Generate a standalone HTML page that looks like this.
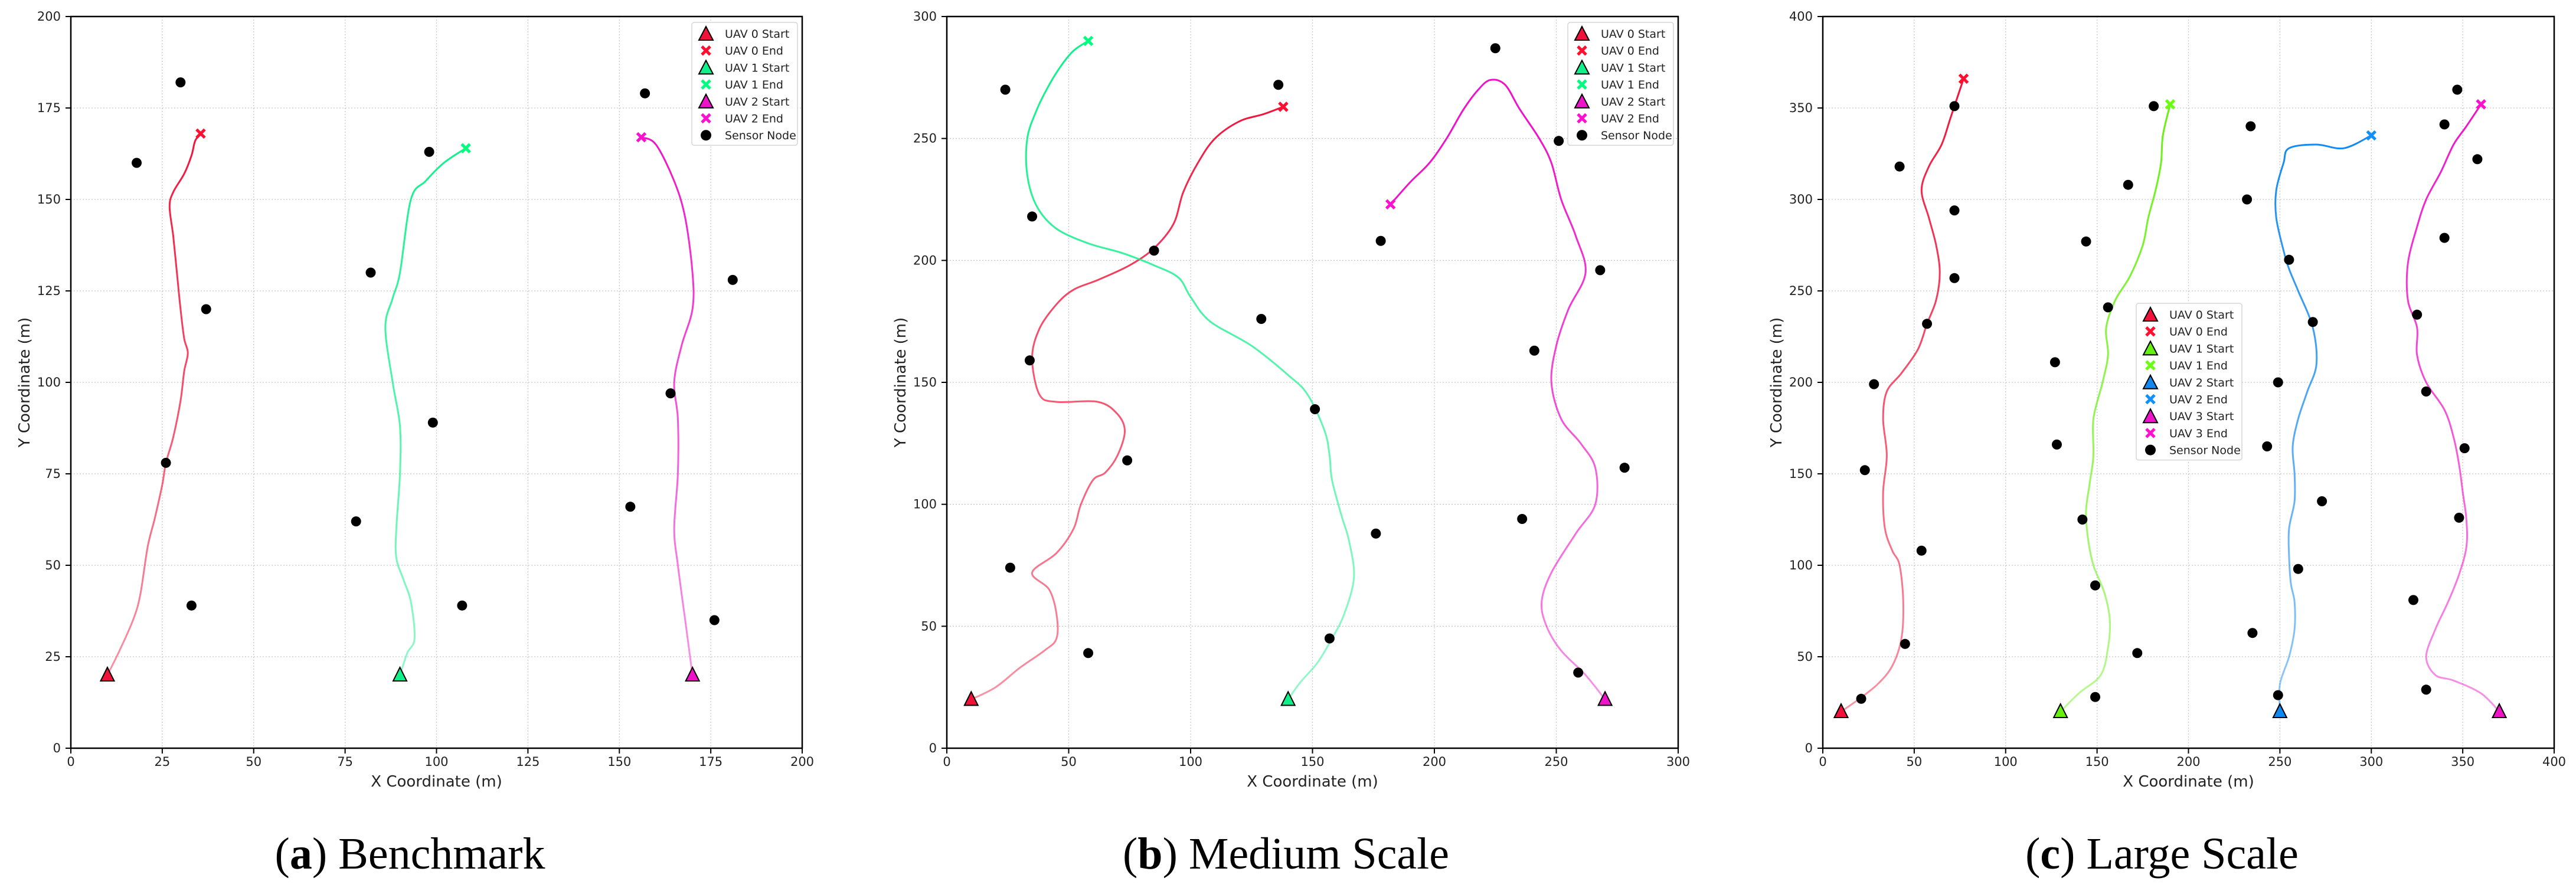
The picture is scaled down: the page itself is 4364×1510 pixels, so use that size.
<!DOCTYPE html>
<html><head><meta charset="utf-8">
<style>
html,body{margin:0;padding:0;background:#fff;}
svg{display:block;}
text{font-family:"DejaVu Sans","Liberation Sans",sans-serif;fill:#222;}
.cap{font-family:"Liberation Serif",serif;fill:#000;}
</style></head>
<body>
<svg id="fig" width="4364" height="1510" viewBox="0 0 4364 1510" xmlns="http://www.w3.org/2000/svg"></svg>
<script>
// ---------- Panel (a) Benchmark ----------
const aSensorX=[30,18,37,26,33,98,82,99,78,107,157,181,164,153,176];
const aSensorY=[182,160,120,78,39,163,130,89,62,39,179,128,97,66,35];
const aU0x=[10,13,17,19,21,23,25,26,28,30,31,32,31,30,29,28,27,28,31,33,34,35.5];
const aU0y=[20,26,35,42,55,63,72,78,85,95,103,108,112,120,130,140,148,152,157,162,166,168];
const aU1x=[90,92,94,93,91,89,89,90,90,88,86,88,90,93,97,102,108];
const aU1y=[20,26,30,40,46,52,60,75,88,100,115,123,130,150,155,160,164];
const aU2x=[170,168,166,165,166,166,165,167,170,170,168,165,160,156];
const aU2y=[20,35,50,60,75,90,100,110,120,130,145,155,165,167];
const aTicks=[0,25,50,75,100,125,150,175,200];

// ---------- Panel (b) Medium Scale ----------
const bSensorX=[24,136,35,85,178,225,251,268,241,129,34,151,74,176,278,236,26,157,58,259];
const bSensorY=[270,272,218,204,208,287,249,196,163,176,159,139,118,88,115,94,74,45,39,31];
const bU0x=[10,20,30,40,45,45,42,35,45,52,55,60,65,70,73,70,62,45,38,35,38,45,52,62,75,85,93,97,103,110,120,130,138];
const bU0y=[20,25,33,40,45,55,65,72,80,90,100,110,113,120,130,137,142,142,145,160,172,182,188,192,198,205,215,228,240,250,257,260,263];
const bU1x=[140,145,152,158,163,167,165,162,158,157,155,148,140,125,108,100,95,85,72,58,45,37,33,33,37,42,47,52,58];
const bU1y=[20,27,35,45,55,70,85,95,110,120,130,145,153,165,175,185,193,198,203,207,213,222,235,250,262,272,280,286,290];
const bU2x=[270,262,252,246,244,248,258,266,266,260,252,248,250,255,262,258,252,248,243,235,229,223,218,212,205,198,190,182];
const bU2y=[20,30,40,50,60,72,88,100,115,125,135,150,165,180,195,210,225,240,250,262,272,274,270,262,250,240,232,223];
const bTicks=[0,50,100,150,200,250,300];

// ---------- Panel (c) Large Scale ----------
const cSensorX=[72,42,72,72,57,28,23,54,45,21,181,167,144,156,127,128,142,149,172,149,234,232,255,268,249,243,273,260,235,249,347,340,358,340,325,330,351,348,323,330];
const cSensorY=[351,318,294,257,232,199,152,108,57,27,351,308,277,241,211,166,125,89,52,28,340,300,267,233,200,165,135,98,63,29,360,341,322,279,237,195,164,126,81,32];
const cU0x=[10,20,30,38,43,44,42,38,34,33,35,33,35,43,52,57,62,64,62,58,54,58,65,70,77];
const cU0y=[20,27,35,45,60,80,100,108,120,140,160,180,195,205,218,232,245,260,275,290,305,318,330,345,366];
const cU1x=[130,140,152,156,157,154,148,145,144,146,148,148,153,156,155,160,168,175,178,182,185,186,190];
const cU1y=[20,30,40,55,70,85,100,115,130,145,160,180,200,215,230,245,258,275,290,305,320,335,352];
const cU2x=[250,250,255,258,258,256,255,255,258,258,257,260,265,270,268,260,255,252,248,248,252,255,270,285,300];
const cU2y=[20,35,50,65,80,90,105,120,135,150,165,180,195,210,230,250,262,272,290,305,320,328,330,328,335];
const cU3x=[370,360,345,335,330,335,342,348,352,352,350,348,345,340,330,325,325,320,320,325,330,338,345,352,360];
const cU3y=[20,30,37,40,50,65,80,95,110,125,140,155,170,185,200,215,230,245,265,285,300,315,330,340,352];
const cTicks=[0,50,100,150,200,250,300,350,400];

const NS="http://www.w3.org/2000/svg";
const svg=document.getElementById('fig');
function mk(tag,attrs,parent){const e=document.createElementNS(NS,tag);for(const k in attrs)e.setAttribute(k,attrs[k]);(parent||svg).appendChild(e);return e;}

function smoothPath(pts){
  let d='M'+pts[0][0].toFixed(1)+','+pts[0][1].toFixed(1);
  for(let i=0;i<pts.length-1;i++){
    const p0=pts[Math.max(0,i-1)],p1=pts[i],p2=pts[i+1],p3=pts[Math.min(pts.length-1,i+2)];
    const c1x=p1[0]+(p2[0]-p0[0])/6,c1y=p1[1]+(p2[1]-p0[1])/6;
    const c2x=p2[0]-(p3[0]-p1[0])/6,c2y=p2[1]-(p3[1]-p1[1])/6;
    d+=`C${c1x.toFixed(1)},${c1y.toFixed(1)} ${c2x.toFixed(1)},${c2y.toFixed(1)} ${p2[0].toFixed(1)},${p2[1].toFixed(1)}`;
  }
  return d;
}

const TOP=28,BOT=1268,W=1239;
function panel(cfg){
  const g=mk('g',{});
  
  
  const L=cfg.left,R=L+W;
  const sx=v=>L+(v/cfg.max)*W;
  const sy=v=>BOT-(v/cfg.max)*(BOT-TOP);
  cfg.ticks.forEach(t=>{
    const gl=mk('line',{x1:sx(t),x2:sx(t),y1:TOP,y2:BOT,stroke:'#c8c8c8','stroke-width':1.3,'stroke-dasharray':'2,3'},g);
    
    
    const gh=mk('line',{x1:L,x2:R,y1:sy(t),y2:sy(t),stroke:'#c8c8c8','stroke-width':1.3,'stroke-dasharray':'2,3'},g);
    
    
    mk('line',{x1:sx(t),x2:sx(t),y1:BOT,y2:BOT+9,stroke:'#000','stroke-width':2},g);
    mk('line',{x1:L-9,x2:L,y1:sy(t),y2:sy(t),stroke:'#000','stroke-width':2},g);
    const xt=mk('text',{x:sx(t),y:BOT+30,'text-anchor':'middle','font-size':21},g);xt.textContent=t;
    
    
    const yt=mk('text',{x:L-17,y:sy(t)+7,'text-anchor':'end','font-size':21},g);yt.textContent=t;
    
    
  });
  cfg.uavs.forEach((u,i)=>{
    const pts=u.x.map((v,k)=>[sx(v),sy(u.y[k])]);
    const d=smoothPath(pts);
    const gid=cfg.name+'-grad'+i;
    const defs=mk('defs',{},g);
    const lg=mk('linearGradient',{id:gid,gradientUnits:'userSpaceOnUse',x1:sx(u.x[0]),y1:sy(u.y[0]),x2:sx(u.x[u.x.length-1]),y2:sy(u.y[u.y.length-1])},defs);
    mk('stop',{offset:'0','stop-color':u.c,'stop-opacity':0.45},lg);
    mk('stop',{offset:'1','stop-color':u.c,'stop-opacity':1},lg);
    const p=mk('path',{d:d,fill:'none',stroke:'url(#'+gid+')','stroke-width':3,'stroke-linejoin':'round','stroke-linecap':'round'},g);
    
    
  });
  cfg.sx.forEach((v,k)=>{
    const c=mk('circle',{cx:sx(v),cy:sy(cfg.sy[k]),r:8.5,fill:'#000'},g);
    
    
  });
  cfg.uavs.forEach((u,i)=>{
    const x0=sx(u.x[0]),y0=sy(u.y[0]);
    const tr=mk('polygon',{points:`${x0},${y0-13} ${x0-11.5},${y0+10} ${x0+11.5},${y0+10}`,fill:u.c,stroke:'#000','stroke-width':2},g);
    
    
    const xe=sx(u.x[u.x.length-1]),ye=sy(u.y[u.y.length-1]);
    const cr=mk('path',{d:`M${xe-7},${ye-7}L${xe+7},${ye+7}M${xe-7},${ye+7}L${xe+7},${ye-7}`,stroke:u.e||u.c,'stroke-width':5},g);
    
    
  });
  const fr=mk('rect',{x:L,y:TOP,width:W,height:BOT-TOP,fill:'none',stroke:'#000','stroke-width':2.5},g);
  
  
  const xl=mk('text',{x:L+W/2,y:1333,'text-anchor':'middle','font-size':26},g);xl.textContent='X Coordinate (m)';
  
  
  const yl=mk('text',{x:0,y:0,'text-anchor':'middle','font-size':26,transform:`translate(${L-70},${(TOP+BOT)/2}) rotate(-90)`},g);yl.textContent='Y Coordinate (m)';
  
  
  const lg=mk('g',{},g);
  
  
  const n=cfg.uavs.length*2+1;
  const lx=cfg.legX,ly=cfg.legY,lw=179,rowH=28.7,lh=18+rowH*(n-1)+18;
  mk('rect',{x:lx,y:ly,width:lw,height:lh,rx:4,fill:'#fff','fill-opacity':0.85,stroke:'#d6d6d6','stroke-width':1.5},lg);
  let r=0;
  const row=(label,draw)=>{
    const cy=ly+19+r*rowH;const mx=lx+24;
    const e=mk('g',{},lg);
    
    
    draw(e,mx,cy);
    const t=mk('text',{x:lx+56,y:cy+7,'font-size':19},e);t.textContent=label;
    r++;
  };
  cfg.uavs.forEach((u,i)=>{
    row('UAV '+i+' Start',(e,mx,cy)=>mk('polygon',{points:`${mx},${cy-12} ${mx-12},${cy+11} ${mx+12},${cy+11}`,fill:u.c,stroke:'#000','stroke-width':2},e));
    row('UAV '+i+' End',(e,mx,cy)=>mk('path',{d:`M${mx-7},${cy-7}L${mx+7},${cy+7}M${mx-7},${cy+7}L${mx+7},${cy-7}`,stroke:u.e||u.c,'stroke-width':5},e));
  });
  row('Sensor Node',(e,mx,cy)=>mk('circle',{cx:mx,cy:cy,r:9,fill:'#000'},e));
  const cap=mk('text',{x:L+W/2-45,y:1472,'text-anchor':'middle','font-size':76,class:'cap'},g);
  
  
  const t1=mk('tspan',{},cap);t1.textContent='(';
  const t2=mk('tspan',{'font-weight':'bold'},cap);t2.textContent=cfg.letter;
  const t3=mk('tspan',{},cap);t3.textContent=') '+cfg.title;
}

panel({name:'panel-benchmark',left:120,max:200,ticks:aTicks,sx:aSensorX,sy:aSensorY,legX:1172,legY:38,letter:'a',title:'Benchmark',
  uavs:[{x:aU0x,y:aU0y,c:'#f0123a',e:'#ff1030'},{x:aU1x,y:aU1y,c:'#10f08a',e:'#00ff80'},{x:aU2x,y:aU2y,c:'#ee12c8',e:'#ff10d0'}]});
panel({name:'panel-medium-scale',left:1604,max:300,ticks:bTicks,sx:bSensorX,sy:bSensorY,legX:2656,legY:38,letter:'b',title:'Medium Scale',
  uavs:[{x:bU0x,y:bU0y,c:'#f0123a',e:'#ff1030'},{x:bU1x,y:bU1y,c:'#10f08a',e:'#00ff80'},{x:bU2x,y:bU2y,c:'#ee12c8',e:'#ff10d0'}]});
panel({name:'panel-large-scale',left:3088,max:400,ticks:cTicks,sx:cSensorX,sy:cSensorY,legX:3619,legY:514,letter:'c',title:'Large Scale',
  uavs:[{x:cU0x,y:cU0y,c:'#f0123a',e:'#ff1030'},{x:cU1x,y:cU1y,c:'#66f010',e:'#6aff10'},{x:cU2x,y:cU2y,c:'#1188f0',e:'#1090ff'},{x:cU3x,y:cU3y,c:'#ee12c8',e:'#ff10d0'}]});
</script>
</body></html>
